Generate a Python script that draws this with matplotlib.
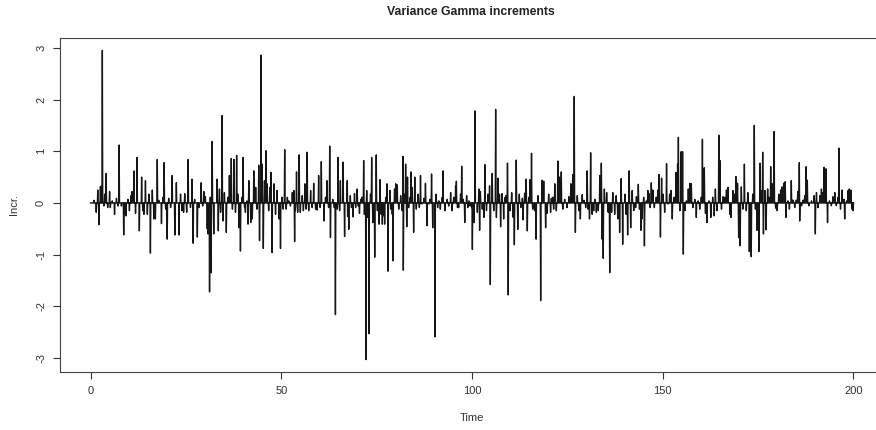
import matplotlib.pyplot as plt
import numpy as np

plt.rcParams['font.family'] = ['Liberation Sans', 'DejaVu Sans']

# increments (time, value); everything else sits at ~0
spike_time = [
    0.9, 1.5, 1.9, 2.2, 2.6, 2.9, 3.1, 3.5, 3.7, 4.1, 4.5, 5.0, 5.2, 5.7, 6.3, 6.8,
    7.2, 7.5, 8.1, 8.7, 9.0, 9.3, 9.8, 10.2, 10.6, 10.9, 11.4, 11.8, 12.2, 12.8,
    13.4, 13.7, 14.0, 14.4, 14.9, 15.3, 15.7, 16.2, 16.6, 17.0, 17.5, 17.9, 18.6,
    19.0, 19.3, 19.7, 20.1, 20.5, 21.0, 21.4, 22.1, 22.5, 23.2, 23.6, 24.0, 24.4,
    24.7, 25.2, 25.6, 26.2, 26.6, 26.9, 27.3, 28.0, 28.4, 29.0, 29.4, 29.7, 30.1,
    30.6, 30.8, 31.2, 31.4, 31.6, 31.9, 32.3,
    33.2, 33.5, 33.8, 34.1, 34.5, 34.7, 35.1, 35.6, 36.0, 36.4, 36.9, 37.2, 37.6,
    38.0, 38.3, 38.6, 38.9, 39.3, 39.7, 40.0, 40.4, 40.6, 41.0, 41.3, 41.5, 42.0,
    42.4, 42.8, 43.3, 43.6, 44.1, 44.3, 44.7, 45.0, 45.3, 45.6, 46.0, 46.3, 46.7,
    47.0, 47.3, 47.6, 48.1, 48.5, 48.9, 49.4, 49.8, 50.2, 50.5, 50.9, 51.3, 51.6,
    52.0, 52.4, 52.9, 53.3, 53.5, 53.7, 54.0, 54.3, 54.7, 55.0, 55.5, 55.8, 56.2,
    56.5, 56.8, 57.2, 57.7, 58.1, 58.5, 59.0, 59.4, 59.8, 60.2, 60.5, 61.2, 61.6,
    62.0, 62.4, 62.7, 62.9, 63.5, 63.9, 64.2, 64.7, 64.9, 65.3, 65.5, 66.2, 66.6,
    67.3, 67.4, 67.7, 68.1, 68.4, 68.8, 69.2, 69.5, 69.9, 70.2, 70.5, 70.9, 71.2,
    71.6, 71.8, 72.2, 72.4, 72.7, 73.0, 73.4, 73.7, 74.0, 74.5, 74.9, 75.2, 75.6,
    75.9, 76.2, 76.5, 76.9, 77.1, 77.4, 77.7, 78.0, 78.5, 78.7, 79.1, 79.3, 79.7,
    80.0, 80.4, 80.8, 81.3, 81.7, 81.9, 82.0, 82.3, 82.6, 82.9, 83.1, 83.4, 83.8,
    84.0, 84.3, 84.7, 85.0, 85.4, 85.9, 86.2, 86.5, 86.9, 87.4, 87.8, 88.2, 88.7,
    89.0, 89.4, 89.7, 90.3, 90.6, 91.0, 91.3, 91.7, 92.2, 92.4, 92.9, 93.5, 93.9,
    94.4, 94.8, 95.2, 95.7, 95.9, 96.2, 96.5, 97.0, 97.3, 97.7, 98.1, 98.6, 98.9,
    99.2, 99.5, 99.9, 100.1, 100.5, 100.8,
    101.4, 101.8, 102.0, 102.2, 102.7, 103.1, 103.4, 103.8, 104.2, 104.6, 104.8,
    105.3, 105.7, 106.2, 106.4, 106.8, 107.2, 107.5, 107.9, 108.3, 108.7, 108.9,
    109.3, 109.5, 110.0, 110.4, 110.8, 111.1, 111.6, 112.0, 112.4, 112.8, 113.2,
    113.4, 113.8, 114.2, 114.5, 114.9, 115.2, 115.6, 115.9, 116.4, 116.8, 117.3,
    118.0, 118.4, 118.8, 119.3, 119.7, 120.1, 120.6, 120.8, 121.2, 121.4, 121.7,
    122.1, 122.5, 122.9, 123.4, 123.8, 124.3, 124.9, 125.4, 125.9, 126.4, 126.8,
    127.1, 127.6, 128.0, 128.4, 128.9, 129.4, 129.8, 130.2, 130.4, 130.8, 131.1,
    131.5, 131.9, 132.2, 132.6, 133.1, 133.5, 133.9, 134.1, 134.4, 134.7,
    135.3, 135.7, 136.1, 136.6, 136.9, 137.4, 137.8, 138.2, 138.7, 139.1, 139.5,
    140.1, 140.4, 140.8, 141.2, 141.6, 142.0, 142.4, 142.9, 143.1, 143.6, 143.9,
    144.3, 144.6, 145.0, 145.2, 145.7, 146.1, 146.4, 146.7, 147.0, 147.4, 147.8,
    148.3, 148.7, 149.0, 149.4, 149.7, 150.1, 150.5, 151.0, 151.4, 151.8, 152.2,
    152.5, 153.0, 153.5, 153.9, 154.1, 154.5, 154.8, 155.2, 155.4, 155.8, 156.2,
    156.7, 157.1, 157.5, 157.9, 158.4, 158.8, 159.3, 159.7, 160.1, 160.4, 160.9,
    161.2, 161.6, 162.1, 162.6, 163.1, 163.5, 163.8, 164.2, 164.7, 165.0, 165.4,
    165.8, 166.3, 166.7, 167.1, 167.6, 167.9, 168.4, 168.8,
    169.2, 169.6, 169.9, 170.3, 170.6, 171.0, 171.4, 171.9, 172.3, 172.7, 173.2,
    173.6, 174.0, 174.3, 174.7, 175.2, 175.5, 175.9, 176.2, 176.4, 176.8, 177.1,
    177.5, 177.8, 178.3, 178.7, 179.2, 179.6, 180.0, 180.4, 180.9, 181.3, 181.7,
    182.1, 182.3, 182.8, 183.2, 183.7, 184.1, 184.6, 185.0, 185.4, 185.8, 185.9,
    186.4, 186.8, 187.2, 187.6, 187.9, 188.3, 189.0, 189.7, 190.0, 190.3, 190.7,
    191.2, 191.6, 192.0, 192.3, 192.8, 193.2, 193.7, 194.2, 194.6, 195.1, 195.5,
    195.9, 196.2, 196.6, 197.0, 197.5, 197.7, 198.2, 198.6, 198.9, 199.3, 199.6,
    199.9,
]
spike_value = [
    0.05, -0.18, 0.25, -0.42, 0.32, 0.32, 2.95, -0.06, 0.17, 0.57, -0.09, 0.22, -0.09, 0.04, -0.22, 0.09,
    -0.06, 1.12, -0.06, -0.62, -0.22, -0.25, 0.07, -0.15, 0.14, 0.22, 0.62, -0.20, 0.88, -0.54,
    0.50, -0.15, -0.22, 0.43, -0.22, 0.17, -0.97, 0.25, -0.31, -0.31, 0.84, 0.05, -0.40,
    0.11, 0.78, -0.12, -0.70, 0.09, -0.09, 0.53, -0.62, 0.39, -0.62, 0.17, -0.15, -0.18,
    0.18, -0.18, 0.84, -0.09, 0.46, -0.78, 0.07, -0.66, -0.09, 0.39, -0.06, 0.22, 0.12,
    -0.50, -0.60, -1.72, 0.11, -1.35, 1.19, -0.60,
    0.46, -0.54, 0.27, -0.18, 1.69, -0.35, 0.20, -0.57, 0.11, 0.53, 0.86, -0.12, 0.84,
    -0.18, 0.92, 0.17, -0.48, -0.93, 0.11, 0.88, -0.09, -0.18, 0.04, -0.41, 0.43, -0.38,
    -0.31, 0.62, 0.30, -0.12, 0.73, -0.73, 2.86, 0.75, -0.88, 0.43, 1.01, 0.37, -0.15,
    0.30, 0.59, -0.96, 0.37, -0.22, 0.24, -0.31, -0.88, 0.11, -0.12, 1.03, -0.12, 0.11,
    0.04, -0.06, 0.20, 0.24, -0.75, -0.15, 0.60, -0.18, 0.93, -0.18, 0.14, -0.15, 0.37,
    -0.12, 0.98, -0.15, 0.24, -0.09, 0.38, -0.12, -0.14, 0.53, -0.09, 0.80, -0.35, 0.11,
    0.43, -0.09, 1.10, -0.67, 0.07, -0.09, -2.16, -0.12, 0.88, -0.15, 0.43, 0.79, -0.65,
    0.43, -0.26, -0.51, 0.14, -0.09, -0.27, 0.18, -0.09, 0.27, -0.06, -0.20, 0.07, 0.11,
    0.82, -0.22, -3.03, 0.24, -0.28, -2.53, 0.17, 0.88, -0.38, -1.05, 0.93, -0.15, -0.41,
    0.45, -0.22, -0.41, -0.25, -0.41, 0.11, 0.37, -1.32, 0.24, -0.12, -0.22, -1.12, 0.27,
    0.37, 0.35, -0.12, 0.14, -0.15, 0.90, -1.30, 0.17, 0.75, -0.46, 0.50, -0.09, 0.11,
    0.60, 0.30, -0.57, 0.50, -0.12, 0.17, -0.09, 0.53, -0.02, 0.09, 0.38, -0.44, -0.02,
    0.07, 0.56, -0.48, -2.59, 0.17, -0.09, 0.04, -0.12, 0.11, 0.62, -0.15, 0.07, -0.06,
    0.20, -0.15, 0.11, 0.33, 0.42, -0.09, -0.09, 0.17, 0.71, 0.07, -0.38, 0.14, -0.09,
    0.04, -0.06, -0.09, -0.90, -0.38, 1.78,
    -0.18, 0.27, -0.53, 0.22, -0.12, -0.28, 0.74, -0.15, 0.17, 0.33, -1.58,
    0.57, -0.15, 1.81, -0.28, 0.48, 0.17, -0.46, 0.18, -0.31, 0.11, 0.14,
    0.77, -1.78, -0.15, 0.20, -0.28, -0.81, 0.83, -0.51, 0.17, -0.09, 0.09,
    -0.33, 0.19, 0.46, -0.54, 0.11, 0.45, 0.96, -0.12, -0.15, -0.70, 0.14,
    -1.89, 0.44, 0.42, -0.48, -0.20, 0.17, -0.18, 0.09, 0.11, -0.12, 0.37,
    -0.15, 0.81, 0.50, 0.60, -0.12, 0.07, -0.09, 0.12, 0.37, 0.55, 2.06,
    -0.57, 0.14, -0.15, -0.31, 0.16, 0.05, -0.09, 0.62, -0.12, -0.31, 0.97,
    -0.22, -0.15, 0.07, -0.18, -0.15, 0.53, 0.77, -0.70, -1.07, 0.27,
    0.20, -0.18, -1.35, -0.18, 0.20, -0.22, 0.14, -0.31, -0.57, 0.47, -0.80,
    0.17, -0.22, -0.62, 0.62, -0.48, 0.24, -0.15, -0.09, 0.12, 0.36, -0.12,
    -0.53, -0.31, 0.11, -0.83, 0.04, 0.24, 0.18, -0.09, 0.39, 0.25, -0.09,
    0.11, 0.25, 0.55, -0.66, 0.48, 0.17, -0.18, 0.76, -0.02, 0.17, 0.24,
    -0.31, 0.11, 0.59, 0.75, 1.27, -0.15, 0.99, 0.99, -0.99, -0.15, 0.04,
    0.27, 0.38, 0.37, -0.09, 0.07, -0.28, 0.04, -0.12, 0.11, 1.23, 0.68,
    -0.20, -0.38, 0.04, -0.28, 0.11, -0.25, 0.27, -0.15, 1.31, 0.82, -0.12,
    0.12, 0.11, 0.25, 0.30, -0.22, -0.28, 0.24, 0.17,
    0.51, 0.38, -0.67, -0.83, 0.31, -0.12, 0.75, -0.15, 0.20, -0.94, -1.04,
    0.17, 1.50, -0.12, -0.53, -0.94, 0.77, 0.24, 0.98, -0.60, 0.24, -0.52,
    0.27, 0.11, 0.70, 0.37, 1.38, -0.10, -0.15, 0.17, 0.25, 0.31, 0.38,
    0.41, -0.28, 0.04, -0.12, 0.43, 0.055, -0.09, 0.055, 0.22, 0.78, -0.35,
    -0.055, 0.055, 0.14, 0.70, 0.44, -0.055, 0.04, 0.14, -0.60, 0.20, -0.09,
    0.14, 0.27, 0.20, 0.69, 0.66, -0.38, 0.04, -0.055, 0.12, 0.20, -0.055,
    0.11, 1.06, -0.12, 0.25, 0.07, -0.31, 0.04, 0.24, 0.27, 0.25, -0.12,
    -0.15,
]

x_ticks = [0, 50, 100, 150, 200]
y_ticks = [-3, -2, -1, 0, 1, 2, 3]

# the series is sampled every 0.1 time units
dt = 0.1
time = np.arange(2001) * dt
incr = np.zeros(len(time))
used = set()
for t, v in zip(spike_time, spike_value):
    i = int(round(t / dt))
    while i in used:
        i += 1
    used.add(i)
    incr[i] = v

fig = plt.figure(figsize=(8.76, 4.30), dpi=100)
ax = fig.add_axes([60 / 876, 1 - 372 / 430, 824 / 876, 334 / 430])
ax.plot(time, incr, color='#151515', lw=1.0)
ax.set_xlim(-8, 208)
ax.set_ylim(-3.27, 3.19)

ax.set_xticks(x_ticks)
ax.set_yticks(y_ticks)
ax.set_yticklabels([str(v) for v in y_ticks], rotation=90, va='center')
ax.tick_params(length=5, width=0.8, color='#333333', labelcolor='#333333',
               labelsize=8, pad=5)
for s in ax.spines.values():
    s.set_color('#444444')
    s.set_linewidth(0.8)

fig.text(471 / 876, 1 - 12 / 430, 'Variance Gamma increments', ha='center',
         va='center', fontsize=8.8, fontweight='bold', color='#222222')
fig.text(472 / 876, 1 - 418 / 430, 'Time', ha='center', va='center',
         fontsize=8, color='#333333')
fig.text(14 / 876, 1 - 205 / 430, 'Incr.', ha='center', va='center',
         rotation=90, fontsize=8, color='#333333')

plt.savefig('out.png', dpi=100)
